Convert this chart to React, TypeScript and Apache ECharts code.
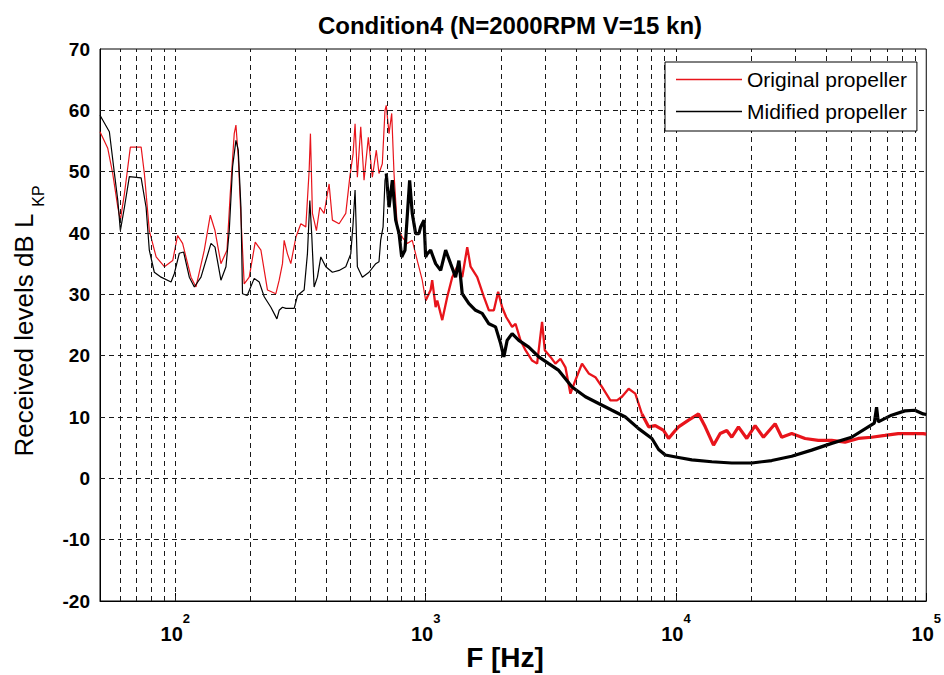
import React, { useEffect, useRef } from 'react';
import * as echarts from 'echarts';

const TITLE = 'Condition4 (N=2000RPM V=15 kn)';
const X_NAME = 'F [Hz]';
const Y_NAME = 'Received levels dB L';
const Y_NAME_SUB = 'KP';
const NAME_ORIGINAL = 'Original propeller';
const NAME_MODIFIED = 'Midified propeller';

const X_MIN = 50;
const X_MAX = 100000;
const Y_MIN = -20;
const Y_MAX = 70;
const Y_STEP = 10;

// vertical dashed grid lines (log minor + decades)
const GRID_FREQS = [
  60, 70, 80, 90, 100,
  200, 300, 400, 500, 600, 700, 800, 900, 1000,
  2000, 3000, 4000, 5000, 6000, 7000, 8000, 9000, 10000,
  20000, 30000, 40000, 50000, 60000, 70000, 80000, 90000,
];
// horizontal dashed grid lines
const GRID_LEVELS = [-10, 0, 10, 20, 30, 40, 50, 60];

// Original propeller, [Hz, dB]
const originalLow: [number, number][] = [
  [50, 56.5], [53.7, 53.8], [56.2, 49.7], [58.9, 44.2], [60.3, 42.1], [62.6, 46.4],
  [66.1, 54], [73.0, 54], [75.2, 49.7], [78.7, 40.4], [83.8, 36.1], [90.4, 34.5],
  [97.6, 35.5], [102.1, 39.6], [106.9, 38.3], [115.5, 32.8], [120.9, 31.2], [130.5, 37.2],
  [137.9, 42.9], [144, 40.4], [152.1, 35], [160.8, 37.2], [165.7, 46.4], [171.9, 56.2],
  [174.6, 57.6], [178.4, 52.4], [182.8, 42.6], [188.4, 31.7], [197.3, 32.8], [208.5, 38.5],
  [219.7, 37.2], [233.4, 30.7], [252.1, 30.1], [259.9, 32.3], [267.9, 35], [272.1, 38.8],
  [280.4, 36.6], [289.3, 35], [303, 39.3], [317.2, 41.5], [332.1, 41], [342.4, 50.2],
  [346.5, 56.2], [352.9, 43.2], [366.1, 40.4], [377.7, 44.2], [392.9, 43.2], [411.4, 48],
  [424.1, 42.1], [451, 41.5], [479.6, 43.2], [497.7, 49.1], [512.9, 52.9], [522.4, 57.8],
  [533.6, 49.1], [550.4, 57.3], [567.4, 48.6], [590.2, 55.6], [612.4, 49.1], [635.2, 53.5],
  [651, 49.7], [671.2, 51.3], [688, 60], [696, 60.8], [714, 56.2], [731.8, 59.5],
  [747.5, 49.7], [770.3, 41], [806.7, 39.3], [844.5, 38.3], [884, 38.8], [925.9, 35.5],
  [969.2, 32.3], [1000, 29],
];
const originalMid: [number, number][] = [
  [1000, 29], [1047, 30.7], [1062, 32.3], [1096, 27.9], [1113, 29], [1165, 25.8],
  [1220, 29.6], [1277, 32.8], [1337, 34.5], [1400, 32.8], [1466, 37.7], [1512, 34.5],
  [1607, 32.8], [1709, 29.6], [1789, 27.4], [1873, 27.4], [1948, 30.4], [2021, 27.9],
  [2097, 26.3], [2215, 24.7], [2286, 25.2], [2393, 22.5], [2505, 20.9], [2663, 19.2],
  [2788, 18.7], [2918, 25.5], [2992, 20.9], [3152, 19.8], [3300, 18.7], [3456, 19.5],
  [3618, 18.1], [3788, 13.8], [3966, 16], [4214, 18.7], [4481, 17.1], [4765, 16.5],
  [5063, 14.9], [5470, 12.7], [5813, 12.7], [6085, 13.3], [6471, 14.6], [6881, 13.8],
  [7311, 10.5],
];
const originalHigh: [number, number][] = [
  [7311, 10.5], [7777, 8.4], [8270, 8.6], [8925, 7.8], [9343, 6.5], [9936, 7.8],
  [10240, 8.4], [11230, 9.5], [12310, 10.5], [13090, 8.4], [14130, 5.4], [15020, 7.3],
  [15960, 7.8], [16710, 6.7], [17770, 8.4], [19180, 6.5], [20720, 8.6], [22360, 6.7],
  [24900, 8.9], [26450, 6.7], [29000, 7.3], [32800, 6.5], [37050, 6.2], [41880, 6.2],
  [47360, 5.9], [53500, 6.5], [60460, 6.7], [68390, 7], [77260, 7.3], [87300, 7.3],
  [97190, 7.3], [100000, 7.2],
];

// Modified propeller, [Hz, dB]
const modifiedLow: [number, number][] = [
  [50, 59.2], [54.5, 56.5], [57.1, 49.7], [58.9, 45.3], [60.3, 40.4], [62.6, 44.2],
  [65.5, 49.2], [73.0, 49], [76.4, 44.2], [78.7, 37.2], [82.4, 33.6], [87.7, 32.8],
  [96.1, 32], [99.1, 33.4], [103.7, 36.7], [107.9, 36.9], [113.7, 32.8], [119.1, 31.2],
  [126.6, 32.8], [138.8, 38.3], [144, 37.7], [152.1, 32.3], [159.3, 34.5], [164.2, 40.4],
  [169.3, 50.8], [174.6, 55.1], [178.4, 53.5], [182.8, 44.2], [185.5, 30.1], [193.7, 29.8],
  [206.6, 32.6], [216.4, 32], [226.5, 29.6], [240.8, 27.9], [254.5, 26], [259.9, 27.4],
  [267.9, 27.9], [276.5, 27.7], [298.4, 27.7], [307.6, 29.8], [327, 30.7], [337, 36.6],
  [344.6, 45.3], [351, 39.3], [358.4, 31.2], [369.5, 32.8], [381.2, 36.1], [399.1, 34.5],
  [424.1, 33.6], [451, 33.9], [479.6, 34.5], [502.1, 36.6], [512.9, 41.5], [522.4, 47],
  [533.6, 34.5], [558.6, 32.8], [594, 33.6], [632, 35], [651, 35.3], [661, 38.8],
  [676, 41], [688, 48.6], [696, 49.7],
];
const modifiedHigh: [number, number][] = [
  [696, 49.7], [714, 44.2], [736, 48.6], [759, 42.1], [783, 39.9], [802, 36.1],
  [827, 37.2], [863, 48.6], [884, 43.2], [912, 39.9], [940, 39.9], [955, 41],
  [985, 42.1], [1000, 36.1], [1015, 36.6], [1047, 37.2], [1096, 35], [1148, 33.9],
  [1202, 37.2], [1258, 35], [1317, 32.8], [1358, 35.5], [1400, 30.1], [1489, 28.5],
  [1583, 27.4], [1682, 26.9], [1789, 25.2], [1902, 24.7], [1992, 22], [2053, 19.8],
  [2116, 22.5], [2215, 23.6], [2356, 22.5], [2583, 21.4], [2831, 19.8], [3103, 18.7],
  [3402, 17.6], [3845, 14.9], [4348, 13.3], [4912, 12.2], [5552, 11.1], [6279, 10],
  [7093, 8.1], [8015, 6.5], [8526, 4.7], [9065, 3.8], [10240, 3.4], [11570, 3],
  [13910, 2.7], [16710, 2.5], [20090, 2.5], [24130, 2.9], [29000, 3.6], [34840, 4.6],
  [41880, 5.7], [50300, 6.7], [58660, 8.4], [62000, 9.0], [63310, 11.6], [64300, 9.2],
  [72650, 10.3], [82160, 11], [90060, 11.1], [97190, 10.5], [100000, 10.4],
];

const RED = '#e8141b';
const BLACK = '#000000';
const GRID_COLOR = '#1a1a1a';
const FONT = '"Liberation Sans", Arial, Helvetica, sans-serif';

export default function App() {
  const ref = useRef<HTMLDivElement>(null);

  useEffect(() => {
    document.body.style.margin = '0';
    if (!ref.current) return;
    const chart = echarts.init(ref.current, null, { renderer: 'svg' });

    const dash = [5, 4];
    const isDecade = (v: number) => {
      const e = Math.log10(v);
      return Math.abs(e - Math.round(e)) < 1e-6;
    };
    const line = (name: string, data: [number, number][], color: string, width: number, z: number) => ({
      name,
      type: 'line',
      data,
      symbol: 'none',
      showSymbol: false,
      color,
      lineStyle: { color, width },
      z,
    });

    const option: any = {
      animation: false,
      backgroundColor: '#ffffff',
      grid: {
        left: 100, right: 16, top: 49, bottom: 74,
        show: true, borderColor: '#000', borderWidth: 1, backgroundColor: 'transparent',
      },
      legend: {
        data: [NAME_ORIGINAL, NAME_MODIFIED],
        orient: 'vertical',
        left: 665,
        top: 62,
        padding: [7, 10, 9, 11],
        icon: 'rect',
        itemWidth: 66,
        itemHeight: 1.3,
        itemGap: 11,
        backgroundColor: '#ffffff',
        borderColor: '#000000',
        borderWidth: 1,
        borderRadius: 0,
        selectedMode: false,
        textStyle: { fontSize: 21, fontFamily: FONT, color: '#000', lineHeight: 21 },
        z: 10,
      },
      xAxis: {
        type: 'log',
        logBase: 10,
        min: X_MIN,
        max: X_MAX,
        position: 'bottom',
        axisLine: { show: true, onZero: false, lineStyle: { color: '#000', width: 1 } },
        axisTick: { show: true, inside: true, length: 8, lineStyle: { color: '#000' } },
        splitLine: { show: false },
        axisLabel: {
          margin: 11,
          color: '#000',
          formatter: (v: number) =>
            isDecade(v) ? `{b|10}{s|${Math.round(Math.log10(v))}}` : '',
          rich: {
            b: { fontSize: 20, fontWeight: 'bold', fontFamily: FONT, color: '#000', lineHeight: 32, verticalAlign: 'bottom' },
            s: { fontSize: 13, fontWeight: 'bold', fontFamily: FONT, color: '#000', verticalAlign: 'top' },
          },
        },
      },
      yAxis: {
        type: 'value',
        min: Y_MIN,
        max: Y_MAX,
        interval: Y_STEP,
        position: 'left',
        axisLine: { show: true, onZero: false, lineStyle: { color: '#000', width: 1 } },
        axisTick: { show: false },
        axisLabel: { color: '#000', fontSize: 19, fontWeight: 'bold', fontFamily: FONT, margin: 10 },
        splitLine: { show: false },
      },
      series: [
        {
          name: '__grid',
          type: 'line',
          data: [],
          z: 1,
          silent: true,
          markLine: {
            silent: true,
            symbol: 'none',
            label: { show: false },
            lineStyle: { color: GRID_COLOR, width: 1, type: dash },
            data: [
              ...GRID_FREQS.map((f) => ({ xAxis: f })),
              ...GRID_LEVELS.map((v) => ({ yAxis: v })),
            ],
          },
        },
        line(NAME_ORIGINAL, originalLow, RED, 1.2, 2),
        line(NAME_ORIGINAL, originalMid, RED, 2.3, 2),
        line(NAME_ORIGINAL, originalHigh, RED, 3.2, 2),
        line(NAME_MODIFIED, modifiedLow, BLACK, 1.2, 3),
        line(NAME_MODIFIED, modifiedHigh, BLACK, 3.2, 3),
      ],
      graphic: [
        {
          type: 'text',
          x: 510,
          y: 25,
          style: {
            text: TITLE,
            font: `bold 24px ${FONT}`,
            fill: '#000',
            align: 'center',
            verticalAlign: 'middle',
          },
        },
        {
          type: 'text',
          x: 505,
          y: 657,
          style: {
            text: X_NAME,
            font: `bold 28px ${FONT}`,
            fill: '#000',
            align: 'center',
            verticalAlign: 'middle',
          },
        },
        {
          type: 'text',
          x: 24,
          y: 335,
          rotation: Math.PI / 2,
          style: {
            text: Y_NAME,
            font: `26px ${FONT}`,
            fill: '#000',
            align: 'center',
            verticalAlign: 'middle',
          },
        },
        {
          type: 'text',
          x: 38,
          y: 196,
          rotation: Math.PI / 2,
          style: {
            text: Y_NAME_SUB,
            font: `16px ${FONT}`,
            fill: '#000',
            align: 'center',
            verticalAlign: 'middle',
          },
        },
      ],
    };

    chart.setOption(option);
    return () => chart.dispose();
  }, []);

  return <div ref={ref} style={{ width: 944, height: 675 }} />;
}
